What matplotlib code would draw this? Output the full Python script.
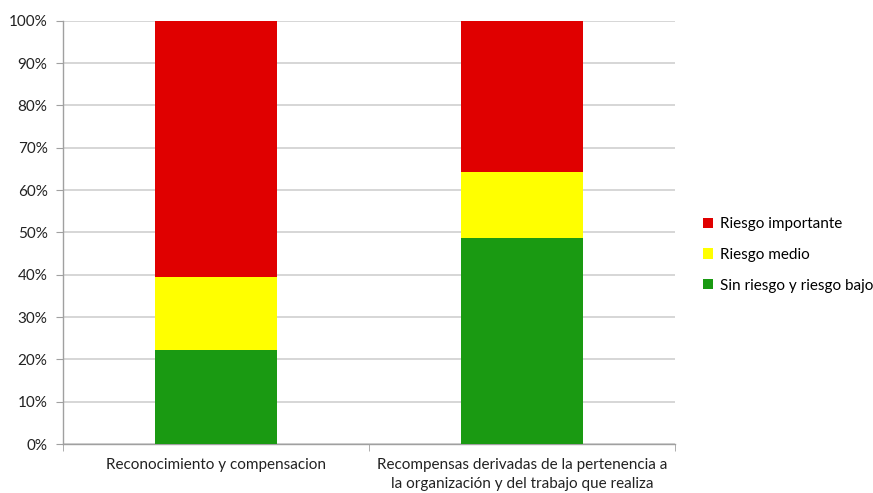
import matplotlib
matplotlib.use("Agg")
import matplotlib.pyplot as plt
from matplotlib.patches import Patch
import numpy as np

categories = [
    "Reconocimiento y compensacion",
    "Recompensas derivadas de la pertenencia a\nla organización y del trabajo que realiza",
]
sin_riesgo = [22.2, 48.8]
riesgo_medio = [17.2, 15.4]
riesgo_importante = [60.6, 35.8]

series_labels = ["Sin riesgo y riesgo bajo", "Riesgo medio", "Riesgo importante"]
colors = ["#1A9A12", "#FFFF00", "#E00000"]
y_ticks = list(range(0, 101, 10))

plt.rcParams["font.family"] = ["Lato", "DejaVu Sans"]

fig = plt.figure(figsize=(8.73, 4.93), dpi=100)
ax = fig.add_axes([0.072, 0.099, 0.701, 0.859])

x = np.arange(len(categories))
bottom = np.zeros(len(categories))
for vals, col in zip([sin_riesgo, riesgo_medio, riesgo_importante], colors):
    ax.bar(x, vals, width=0.4, bottom=bottom, color=col, zorder=3)
    bottom += np.array(vals)

ax.set_xlim(-0.5, len(categories) - 0.5)
ax.set_ylim(0, 100)
ax.set_yticks(y_ticks)
ax.set_yticklabels([f"{t}%" for t in y_ticks], fontsize=11, color="#222222")
ax.yaxis.grid(True, color="#D0D0D0", linewidth=1.2, zorder=0)
ax.set_axisbelow(True)

ax.set_xticks(x)
ax.set_xticklabels(categories, fontsize=11, color="#222222", linespacing=1.45)
ax.set_xticks(np.arange(-0.5, len(categories)), minor=True)
ax.tick_params(axis="x", which="major", length=0, pad=10)
ax.tick_params(axis="x", which="minor", length=5, color="#A0A0A0", direction="out")
ax.tick_params(axis="y", length=5, color="#A0A0A0", direction="out", pad=6)

for side in ["top", "right"]:
    ax.spines[side].set_visible(False)
for side in ["left", "bottom"]:
    ax.spines[side].set_color("#A0A0A0")
    ax.spines[side].set_linewidth(1.0)

handles = [Patch(facecolor=c) for c in colors[::-1]]
fig.legend(handles, series_labels[::-1], loc="center left",
           bbox_to_anchor=(0.79, 0.483), frameon=False, fontsize=11,
           handlelength=0.65, handleheight=0.65, handletextpad=0.45,
           labelspacing=1.1)

fig.savefig("out.png", dpi=100)
